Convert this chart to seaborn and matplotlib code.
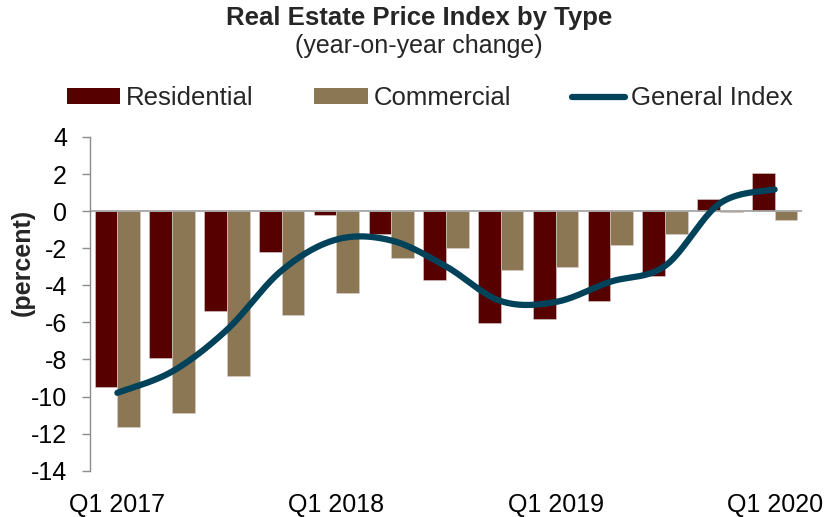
import numpy as np
import pandas as pd
import matplotlib
matplotlib.use("Agg")
import matplotlib.pyplot as plt
import seaborn as sns
from matplotlib.patches import Patch
from matplotlib.lines import Line2D

quarters = ["Q1 2017", "Q2 2017", "Q3 2017", "Q4 2017",
            "Q1 2018", "Q2 2018", "Q3 2018", "Q4 2018",
            "Q1 2019", "Q2 2019", "Q3 2019", "Q4 2019", "Q1 2020"]
residential = [-9.48, -7.91, -5.39, -2.23, -0.22, -1.24, -3.74, -6.02, -5.83, -4.82, -3.51, 0.68, 2.05]
commercial = [-11.63, -10.91, -8.90, -5.61, -4.39, -2.52, -2.01, -3.17, -3.02, -1.82, -1.24, -0.07, -0.50]
general = [-9.8, -8.65, -6.4, -3.2, -1.53, -1.58, -2.98, -4.85, -4.9, -3.81, -2.95, 0.42, 1.17]
shown_ticks = ["Q1 2017", "Q1 2018", "Q1 2019", "Q1 2020"]
ytick_vals = [-14, -12, -10, -8, -6, -4, -2, 0, 2, 4]

c_res = "#560000"
c_com = "#8C7754"
c_gen = "#00425A"

sns.set_theme(style="white")
plt.rcParams["font.family"] = ["Liberation Sans", "DejaVu Sans"]
plt.rcParams["axes.unicode_minus"] = False

df = pd.DataFrame({
    "quarter": quarters * 2,
    "value": residential + commercial,
    "type": ["Residential"] * len(quarters) + ["Commercial"] * len(quarters),
})

fig = plt.figure(figsize=(8.38, 5.17), dpi=100)
ax = fig.add_axes([90 / 838, 1 - 470.7 / 517, (802 - 90) / 838, (470.7 - 137) / 517])

sns.barplot(data=df, x="quarter", y="value", hue="type", order=quarters,
            hue_order=["Residential", "Commercial"],
            palette=[c_res, c_com], width=0.83, ax=ax, legend=False,
            edgecolor="#d9cfcf", linewidth=0.4, saturation=1)

# smoothed line (Excel-style Bezier smoothing through the data points)
xs = np.arange(len(general), dtype=float)
ys = np.array(general, dtype=float)
P = np.column_stack([xs, ys])
Pext = np.vstack([P[0], P, P[-1]])
curve = []
t = np.linspace(0, 1, 40)
for i in range(len(P) - 1):
    p0, p1, p2, p3 = Pext[i], Pext[i + 1], Pext[i + 2], Pext[i + 3]
    c1 = p1 + (p2 - p0) / 6
    c2 = p2 - (p3 - p1) / 6
    seg = ((1 - t) ** 3)[:, None] * p1 + (3 * (1 - t) ** 2 * t)[:, None] * c1 \
        + (3 * (1 - t) * t ** 2)[:, None] * c2 + (t ** 3)[:, None] * p2
    curve.append(seg if i == 0 else seg[1:])
curve = np.vstack(curve)
line_df = pd.DataFrame({"x": curve[:, 0], "y": curve[:, 1]})
sns.lineplot(data=line_df, x="x", y="y", sort=False, color=c_gen, linewidth=4.5,
             ax=ax, solid_capstyle="round", zorder=5)

ax.axhline(0, color="#a6a6a6", linewidth=1.3, zorder=1)
ax.set_xlim(-0.5, len(quarters) - 0.5)
ax.set_ylim(-14, 4)
ax.set_yticks(ytick_vals)
ax.set_yticklabels([str(v) for v in ytick_vals])
ax.set_xticks(range(len(quarters)))
ax.set_xticklabels([q if q in shown_ticks else "" for q in quarters])
ax.tick_params(axis="x", length=0, pad=16, labelsize=18, colors="black")
ax.tick_params(axis="y", direction="out", length=5.5, width=1, color="#8c8c8c",
               pad=11, labelsize=18, left=True, labelcolor="black")
for s in ["top", "right", "bottom"]:
    ax.spines[s].set_visible(False)
ax.spines["left"].set_color("#8c8c8c")
ax.spines["left"].set_linewidth(1)
ax.set_xlabel("")
ax.set_ylabel("(percent)", fontsize=18, fontweight="bold")
ax.yaxis.set_label_coords(-55 / 712, 0.624)
ax.grid(False)

fig.text(0.5, 1 - 18 / 517, "Real Estate Price Index by Type", ha="center", va="center",
         fontsize=18.5, fontweight="bold")
fig.text(0.5, 1 - 46 / 517, "(year-on-year change)", ha="center", va="center", fontsize=18)

handles = [Patch(facecolor=c_res, edgecolor="none"),
           Patch(facecolor=c_com, edgecolor="none"),
           Line2D([0], [0], color=c_gen, linewidth=4.5, solid_capstyle="round")]
fig.legend(handles, ["Residential", "Commercial", "General Index"], loc="center",
           bbox_to_anchor=(0.513, 1 - 98 / 517), ncol=3, frameon=False, fontsize=18.5,
           handlelength=2.08, handleheight=0.54, handletextpad=0.24, columnspacing=2.35,
           borderpad=0)

fig.savefig("out.png", dpi=100)
